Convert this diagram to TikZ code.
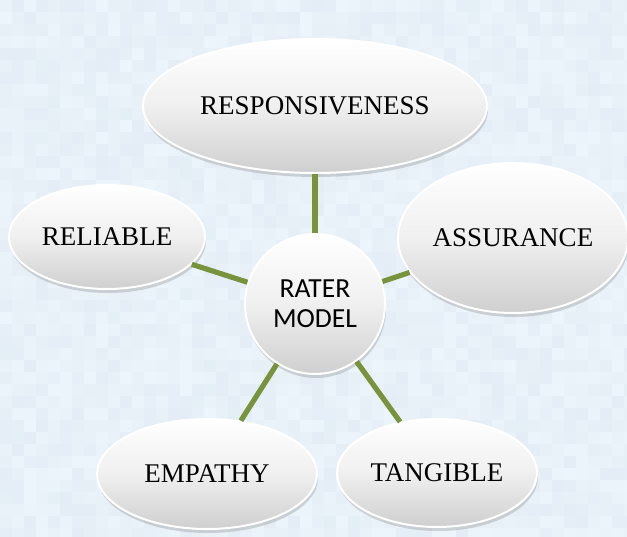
\documentclass[tikz,border=0pt]{standalone}
\usepackage{fontspec}
\setmainfont{Liberation Serif}
\newfontfamily\raterfont{Carlito}
\usetikzlibrary{shapes.geometric,shadows}
\definecolor{bgblue}{HTML}{E4EDF5}
\definecolor{tileblue}{HTML}{ECF5FB}
\definecolor{olive}{HTML}{77933C}
\definecolor{ballgray}{HTML}{CFCFCF}

\begin{document}
\begin{tikzpicture}[x=0.5pt, y=-0.5pt,
  ball/.style={ellipse, inner sep=0pt, top color=white, bottom color=ballgray,
    middle color=white!88!gray, draw=white, line width=1pt,
    drop shadow={opacity=0.3, shadow xshift=0.5pt, shadow yshift=-2pt},
    font=\fontsize{13.5}{16}\selectfont},
  spoke/.style={olive, line width=2.6pt}]
  \useasboundingbox (0,0) rectangle (627,536);
  % mosaic background
  \fill[bgblue] (0,0) rectangle (627,536);
  \pgfmathsetseed{11}
  \foreach \i in {0,...,52}{
    \foreach \j in {0,...,44}{
      \pgfmathtruncatemacro{\pct}{100*rnd}
      \fill[tileblue!\pct!bgblue] (\i*12,\j*12) rectangle ++(12,12);
    }
  }
  % the six balls
  \node[ball, minimum width=172pt, minimum height=67pt] (resp) at (315,106) {RESPONSIVENESS};
  \node[ball, minimum width=98pt, minimum height=52pt] (reli) at (107,237) {RELIABLE};
  \node[ball, minimum width=115pt, minimum height=75pt] (assu) at (513,238) {ASSURANCE};
  \node[ball, minimum width=110pt, minimum height=55pt] (empa) at (207,474) {EMPATHY};
  \node[ball, minimum width=100pt, minimum height=54pt] (tang) at (437,473) {TANGIBLE};
  \node[ball, circle, minimum size=70pt, align=center,
    font=\raterfont\fontsize{13.8}{15}\selectfont] (rater) at (315,304) {RATER\\MODEL};
  % spokes
  \foreach \leaf in {resp,reli,assu,empa,tang}
    \draw[spoke] (rater) -- (\leaf);
\end{tikzpicture}
\end{document}
